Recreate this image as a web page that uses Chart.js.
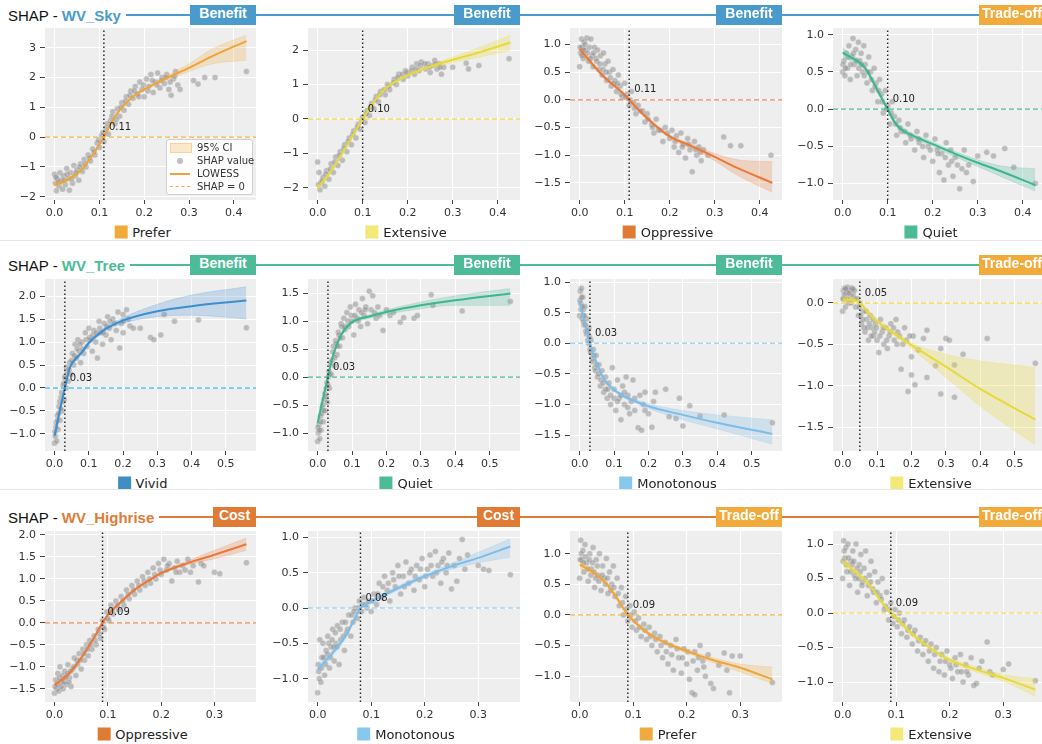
<!DOCTYPE html>
<html>
<head>
<meta charset="utf-8">
<script src="https://cdn.jsdelivr.net/npm/chart.js@4.4.1/dist/chart.umd.min.js"></script>
<style>
  body { margin: 0; width: 1042px; height: 744px; overflow: hidden; background: #fff; position: relative; font-family: 'DejaVu Sans', sans-serif; }
  .abs { position: absolute; }
  .head { display: flex; align-items: center; height: 20px; font: 15px 'Liberation Sans', Arial, sans-serif; color: #111; white-space: nowrap; }
  .head b { margin-left: 4px; }
  .head .line { flex: 1; height: 2px; margin-left: 5px; }
  .badge { height: 20px; line-height: 20px; color: #fff; font: bold 14px 'Liberation Sans', Arial, sans-serif; text-align: center; }
  .sep { left: 0; width: 1042px; height: 1px; background: #e8e8e8; }
  .cat { display: flex; align-items: center; font-size: 13px; color: #222; transform: translate(-50%, -50%); white-space: nowrap; }
  .cat i { display: inline-block; width: 13px; height: 13px; margin-right: 5px; }
  .leg { left: 166px; top: 139px; width: 85px; height: 54px; background: rgba(255,255,255,0.85); border: 1px solid #d0d0d0; border-radius: 3px; font-size: 10px; color: #333; }
  .leg div { position: absolute; left: 30px; height: 13px; line-height: 13px; white-space: nowrap; }
  .leg span { position: absolute; }
</style>
</head>
<body>
<script>
// ---- data ----
const rowNames = ['WV_Sky', 'WV_Tree', 'WV_Highrise'];
const categories = [
  ['Prefer', 'Extensive', 'Oppressive', 'Quiet'],
  ['Vivid', 'Quiet', 'Monotonous', 'Extensive'],
  ['Oppressive', 'Monotonous', 'Prefer', 'Extensive']
];
const effects = [
  ['Benefit', 'Benefit', 'Benefit', 'Trade-off'],
  ['Benefit', 'Benefit', 'Benefit', 'Trade-off'],
  ['Cost', 'Cost', 'Trade-off', 'Trade-off']
];
const thresholds = [[0.11, 0.10, 0.11, 0.10], [0.03, 0.03, 0.03, 0.05], [0.09, 0.08, 0.09, 0.09]];
const xTicks = [[0, 0.1, 0.2, 0.3, 0.4], [0, 0.1, 0.2, 0.3, 0.4, 0.5], [0, 0.1, 0.2, 0.3]];
const xDataMax = [0.428, 0.56, 0.36];
const yTicks = [
  [[-2, -1, 0, 1, 2, 3], [-2, -1, 0, 1, 2], [-1.5, -1, -0.5, 0, 0.5, 1], [-1, -0.5, 0, 0.5, 1]],
  [[-1, -0.5, 0, 0.5, 1, 1.5, 2], [-1, -0.5, 0, 0.5, 1, 1.5], [-1.5, -1, -0.5, 0, 0.5, 1], [-1.5, -1, -0.5, 0]],
  [[-1.5, -1, -0.5, 0, 0.5, 1, 1.5, 2], [-1, -0.5, 0, 0.5, 1], [-1, -0.5, 0, 0.5, 1], [-1, -0.5, 0, 0.5, 1]]
];
const yDecimals = [[0, 0, 1, 1], [1, 1, 1, 1], [1, 1, 1, 1]];
const yRange = [
  [[-2.11, 3.66], [-2.35, 2.64], [-1.81, 1.30], [-1.22, 1.09]],
  [[-1.37, 2.37], [-1.32, 1.75], [-1.76, 1.05], [-1.79, 0.29]],
  [[-1.80, 2.09], [-1.33, 1.09], [-1.42, 1.37], [-1.29, 1.19]]
];

// LOWESS curves [x, y]
const lowess_sky_prefer = [[0,-1.6],[0.02,-1.5],[0.04,-1.32],[0.06,-1.1],[0.08,-0.7],[0.1,-0.25],[0.11,0],[0.12,0.3],[0.14,0.8],[0.16,1.15],[0.18,1.42],[0.2,1.6],[0.25,1.98],[0.3,2.32],[0.35,2.7],[0.428,3.22]];
const lowess_sky_extensive = [[0,-2.0],[0.025,-1.6],[0.05,-1.1],[0.075,-0.55],[0.1,0],[0.125,0.5],[0.15,0.88],[0.175,1.1],[0.2,1.27],[0.25,1.52],[0.3,1.72],[0.35,1.9],[0.428,2.22]];
const lowess_sky_oppressive = [[0,0.92],[0.05,0.45],[0.1,0.09],[0.11,0],[0.15,-0.33],[0.2,-0.66],[0.25,-0.84],[0.3,-1.03],[0.35,-1.23],[0.428,-1.5]];
const lowess_sky_quiet = [[0,0.76],[0.05,0.55],[0.075,0.28],[0.1,0],[0.115,-0.17],[0.13,-0.27],[0.15,-0.34],[0.2,-0.47],[0.25,-0.6],[0.3,-0.72],[0.35,-0.83],[0.428,-1.02]];
const lowess_tree_vivid = [[0,-1.04],[0.015,-0.5],[0.03,0],[0.045,0.45],[0.06,0.62],[0.08,0.78],[0.1,0.98],[0.125,1.15],[0.15,1.29],[0.2,1.47],[0.3,1.67],[0.4,1.78],[0.56,1.9]];
const lowess_tree_quiet = [[0,-0.82],[0.015,-0.4],[0.03,0],[0.04,0.28],[0.05,0.48],[0.07,0.77],[0.1,0.98],[0.15,1.08],[0.2,1.16],[0.3,1.28],[0.4,1.37],[0.56,1.49]];
const lowess_tree_monotonous = [[0,0.69],[0.015,0.33],[0.03,0],[0.05,-0.33],[0.07,-0.58],[0.1,-0.76],[0.13,-0.87],[0.15,-0.92],[0.2,-1.03],[0.3,-1.17],[0.4,-1.3],[0.56,-1.48]];
const lowess_tree_extensive = [[0,0.04],[0.03,0.04],[0.05,0],[0.075,-0.12],[0.1,-0.22],[0.15,-0.37],[0.2,-0.51],[0.3,-0.77],[0.4,-1.04],[0.56,-1.41]];
const lowess_high_oppressive = [[0,-1.41],[0.025,-1.18],[0.05,-0.8],[0.07,-0.42],[0.09,0],[0.1,0.18],[0.125,0.48],[0.15,0.75],[0.175,0.95],[0.2,1.13],[0.25,1.36],[0.3,1.55],[0.36,1.79]];
const lowess_high_monotonous = [[0,-0.87],[0.025,-0.66],[0.05,-0.42],[0.07,-0.14],[0.08,0],[0.1,0.09],[0.15,0.28],[0.2,0.45],[0.25,0.59],[0.3,0.71],[0.36,0.87]];
const lowess_high_prefer = [[0,0.82],[0.025,0.7],[0.05,0.51],[0.07,0.27],[0.09,0],[0.1,-0.09],[0.125,-0.28],[0.15,-0.41],[0.2,-0.59],[0.25,-0.74],[0.3,-0.86],[0.36,-1.05]];
const lowess_high_extensive = [[0,0.75],[0.025,0.59],[0.05,0.41],[0.07,0.19],[0.09,0],[0.1,-0.07],[0.125,-0.27],[0.15,-0.43],[0.2,-0.68],[0.25,-0.82],[0.3,-0.94],[0.36,-1.11]];

// 95% CI bands [x, low, high]
const ci_sky_prefer = [[0,-1.68,-1.52],[0.02,-1.56,-1.44],[0.04,-1.37,-1.27],[0.06,-1.15,-1.05],[0.08,-0.75,-0.65],[0.1,-0.3,-0.2],[0.11,-0.05,0.05],[0.12,0.25,0.35],[0.14,0.75,0.85],[0.16,1.1,1.2],[0.18,1.38,1.46],[0.2,1.56,1.64],[0.25,1.92,2.05],[0.3,2.2,2.46],[0.35,2.45,2.95],[0.428,2.58,3.42]];
const ci_sky_extensive = [[0,-2.07,-1.93],[0.025,-1.65,-1.55],[0.05,-1.14,-1.06],[0.075,-0.59,-0.51],[0.1,-0.04,0.04],[0.125,0.46,0.54],[0.15,0.84,0.92],[0.175,1.06,1.14],[0.2,1.23,1.31],[0.25,1.47,1.57],[0.3,1.63,1.8],[0.35,1.77,2.03],[0.428,1.99,2.43]];
const ci_sky_oppressive = [[0,0.86,0.98],[0.05,0.42,0.48],[0.1,0.06,0.12],[0.11,-0.03,0.03],[0.15,-0.36,-0.3],[0.2,-0.69,-0.63],[0.25,-0.88,-0.8],[0.3,-1.1,-0.97],[0.35,-1.36,-1.08],[0.428,-1.67,-1.12]];
const ci_sky_quiet = [[0,0.7,0.82],[0.05,0.52,0.58],[0.075,0.25,0.31],[0.1,-0.03,0.03],[0.115,-0.2,-0.14],[0.13,-0.3,-0.24],[0.15,-0.37,-0.31],[0.2,-0.5,-0.44],[0.25,-0.64,-0.57],[0.3,-0.77,-0.68],[0.35,-0.9,-0.76],[0.428,-1.1,-0.8]];
const ci_tree_vivid = [[0,-1.1,-0.98],[0.015,-0.55,-0.45],[0.03,-0.04,0.04],[0.045,0.41,0.49],[0.06,0.58,0.66],[0.08,0.74,0.82],[0.1,0.94,1.02],[0.125,1.11,1.19],[0.15,1.25,1.33],[0.2,1.41,1.53],[0.3,1.55,1.82],[0.4,1.58,2.02],[0.56,1.5,2.2]];
const ci_tree_quiet = [[0,-0.88,-0.76],[0.015,-0.44,-0.36],[0.03,-0.03,0.03],[0.04,0.25,0.31],[0.05,0.45,0.51],[0.07,0.74,0.8],[0.1,0.95,1.01],[0.15,1.05,1.11],[0.2,1.12,1.2],[0.3,1.22,1.34],[0.4,1.28,1.45],[0.56,1.28,1.58]];
const ci_tree_monotonous = [[0,0.62,0.76],[0.015,0.29,0.37],[0.03,-0.03,0.03],[0.05,-0.36,-0.3],[0.07,-0.61,-0.55],[0.1,-0.79,-0.73],[0.13,-0.9,-0.84],[0.15,-0.95,-0.89],[0.2,-1.07,-0.99],[0.3,-1.25,-1.1],[0.4,-1.4,-1.17],[0.56,-1.65,-1.25]];
const ci_tree_extensive = [[0,0.0,0.08],[0.03,0.01,0.07],[0.05,-0.03,0.03],[0.075,-0.15,-0.09],[0.1,-0.25,-0.19],[0.15,-0.4,-0.34],[0.2,-0.55,-0.48],[0.3,-0.9,-0.62],[0.4,-1.25,-0.7],[0.56,-1.72,-0.78]];
const ci_high_oppressive = [[0,-1.47,-1.35],[0.025,-1.22,-1.14],[0.05,-0.84,-0.76],[0.07,-0.45,-0.39],[0.09,-0.03,0.03],[0.1,0.15,0.21],[0.125,0.45,0.51],[0.15,0.72,0.78],[0.175,0.92,0.98],[0.2,1.1,1.16],[0.25,1.32,1.41],[0.3,1.46,1.65],[0.36,1.65,1.93]];
const ci_high_monotonous = [[0,-0.93,-0.81],[0.025,-0.7,-0.62],[0.05,-0.46,-0.38],[0.07,-0.17,-0.11],[0.08,-0.03,0.03],[0.1,0.06,0.12],[0.15,0.25,0.31],[0.2,0.42,0.48],[0.25,0.55,0.63],[0.3,0.64,0.79],[0.36,0.72,0.98]];
const ci_high_prefer = [[0,0.76,0.88],[0.025,0.66,0.74],[0.05,0.48,0.54],[0.07,0.24,0.3],[0.09,-0.03,0.03],[0.1,-0.12,-0.06],[0.125,-0.31,-0.25],[0.15,-0.44,-0.38],[0.2,-0.62,-0.56],[0.25,-0.78,-0.7],[0.3,-0.93,-0.8],[0.36,-1.12,-0.85]];
const ci_high_extensive = [[0,0.69,0.81],[0.025,0.55,0.63],[0.05,0.38,0.44],[0.07,0.16,0.22],[0.09,-0.03,0.03],[0.1,-0.1,-0.04],[0.125,-0.3,-0.24],[0.15,-0.46,-0.4],[0.2,-0.71,-0.65],[0.25,-0.86,-0.78],[0.3,-0.99,-0.89],[0.36,-1.21,-0.95]];

// SHAP values [x, y]
const shap_sky_prefer = [[0,-1.25],[0.002,-1.55],[0.004,-1.8],[0.006,-1.4],[0.01,-1.65],[0.012,-1.2],[0.015,-1.45],[0.018,-1.75],[0.02,-1.3],[0.024,-1.6],[0.027,-1.05],[0.03,-1.4],[0.033,-1.78],[0.036,-1.2],[0.04,-1.55],[0.043,-0.95],[0.046,-1.3],[0.05,-1.1],[0.054,-1.45],[0.058,-0.9],[0.062,-1.15],[0.066,-0.75],[0.07,-1.0],[0.075,-0.6],[0.08,-0.8],[0.085,-0.4],[0.09,-0.6],[0.095,-0.2],[0.1,-0.35],[0.105,0.05],[0.11,-0.15],[0.115,0.3],[0.12,0.1],[0.125,0.55],[0.13,0.85],[0.135,0.45],[0.14,0.95],[0.145,0.7],[0.15,1.15],[0.155,0.9],[0.16,1.35],[0.165,1.1],[0.17,1.55],[0.175,1.3],[0.18,1.7],[0.185,1.45],[0.19,1.85],[0.195,1.6],[0.2,1.35],[0.205,1.95],[0.21,1.7],[0.215,2.1],[0.22,1.5],[0.225,1.85],[0.23,2.15],[0.235,1.65],[0.24,2.0],[0.245,1.8],[0.25,2.1],[0.255,1.6],[0.26,1.4],[0.265,1.95],[0.27,2.2],[0.275,1.75],[0.28,1.6],[0.31,1.9],[0.32,1.78],[0.335,2.0],[0.358,2.0],[0.428,2.2],
  [0.003,-1.35],[0.009,-1.5],[0.021,-1.45],[0.028,-1.25],[0.038,-1.4],[0.048,-1.2],[0.056,-1.0],[0.068,-0.9],[0.078,-0.7],[0.088,-0.5],[0.098,-0.1],[0.108,0.15],[0.118,0.45],[0.128,0.7],[0.138,0.6],[0.148,1.0],[0.158,1.2],[0.168,1.4],[0.178,1.55],[0.188,1.35],[0.198,1.75],[0.208,1.55],[0.218,1.9],[0.228,1.75],[0.238,1.9],[0.248,2.0],[0.258,1.85],[0.268,2.05]];
const shap_sky_extensive = [[0,-1.25],[0.003,-1.55],[0.005,-2.05],[0.008,-1.85],[0.012,-1.7],[0.016,-1.95],[0.02,-1.5],[0.025,-1.75],[0.03,-1.3],[0.035,-1.55],[0.04,-1.1],[0.045,-1.35],[0.05,-0.95],[0.055,-1.2],[0.06,-0.75],[0.065,-0.95],[0.07,-0.55],[0.075,-0.75],[0.08,-0.35],[0.085,-0.55],[0.09,-0.15],[0.095,-0.3],[0.1,0.05],[0.105,-0.1],[0.11,0.25],[0.115,0.1],[0.12,0.45],[0.125,0.3],[0.13,0.65],[0.135,0.5],[0.14,0.8],[0.15,0.7],[0.155,1.0],[0.16,0.85],[0.17,1.15],[0.175,1.0],[0.18,1.3],[0.19,1.15],[0.195,1.4],[0.2,1.25],[0.21,1.5],[0.215,1.3],[0.22,1.6],[0.225,1.4],[0.23,1.65],[0.24,1.45],[0.245,1.6],[0.25,1.35],[0.255,1.55],[0.26,1.7],[0.265,1.45],[0.27,1.6],[0.275,1.3],[0.28,1.5],[0.3,1.5],[0.33,1.62],[0.335,1.45],[0.358,1.55],[0.425,1.75],
  [0.002,-1.9],[0.01,-1.8],[0.018,-1.6],[0.028,-1.45],[0.038,-1.25],[0.048,-1.05],[0.058,-0.85],[0.068,-0.65],[0.078,-0.45],[0.088,-0.25],[0.098,-0.05],[0.108,0.15],[0.118,0.35],[0.128,0.55],[0.138,0.7],[0.148,0.85],[0.158,0.95],[0.168,1.05],[0.178,1.2],[0.188,1.3],[0.198,1.35],[0.208,1.4],[0.218,1.45],[0.228,1.55],[0.238,1.6],[0.248,1.5],[0.262,1.6],[0.272,1.5]];
const shap_sky_oppressive = [[0,0.6],[0.002,0.85],[0.004,1.1],[0.006,0.95],[0.008,0.75],[0.01,1.05],[0.013,0.9],[0.016,1.12],[0.02,0.7],[0.022,0.95],[0.025,1.1],[0.028,0.8],[0.03,0.6],[0.033,0.95],[0.036,0.75],[0.04,0.9],[0.043,0.55],[0.046,0.8],[0.05,0.45],[0.053,0.85],[0.056,0.65],[0.06,0.35],[0.063,0.7],[0.066,0.5],[0.07,0.25],[0.074,0.55],[0.078,0.35],[0.082,0.15],[0.086,0.45],[0.09,0.25],[0.095,0.05],[0.1,0.3],[0.105,0.1],[0.11,-0.1],[0.115,0.15],[0.12,-0.05],[0.125,-0.25],[0.13,-0.1],[0.14,-0.2],[0.145,-0.4],[0.15,-0.25],[0.16,-0.45],[0.165,-0.6],[0.17,-0.35],[0.18,-0.55],[0.185,-0.75],[0.19,-0.5],[0.2,-0.7],[0.205,-0.55],[0.21,-0.85],[0.215,-0.65],[0.22,-0.95],[0.225,-0.6],[0.23,-0.8],[0.235,-1.05],[0.24,-0.7],[0.245,-0.9],[0.25,-1.3],[0.255,-0.75],[0.26,-1.0],[0.265,-0.85],[0.27,-1.1],[0.275,-0.9],[0.285,-1.0],[0.32,-0.67],[0.335,-0.83],[0.358,-0.83],[0.425,-1.0],
  [0.001,0.95],[0.005,0.8],[0.009,0.9],[0.012,1.0],[0.018,0.85],[0.024,0.75],[0.031,0.85],[0.038,0.7],[0.045,0.65],[0.052,0.55],[0.059,0.5],[0.068,0.4],[0.076,0.3],[0.084,0.3],[0.092,0.1],[0.102,0.05],[0.112,0.0],[0.122,-0.15],[0.135,-0.2],[0.152,-0.35],[0.162,-0.5],[0.175,-0.55],[0.195,-0.6],[0.212,-0.75],[0.228,-0.85],[0.242,-0.8],[0.258,-0.9],[0.268,-0.95]];
const shap_sky_quiet = [[0,0.5],[0.003,0.65],[0.005,0.45],[0.008,0.75],[0.011,0.55],[0.014,0.85],[0.017,0.4],[0.02,0.7],[0.023,0.95],[0.026,0.6],[0.029,0.8],[0.032,0.45],[0.035,0.9],[0.038,0.65],[0.041,0.75],[0.044,0.5],[0.047,0.85],[0.05,0.6],[0.054,0.35],[0.058,0.7],[0.062,0.5],[0.066,0.25],[0.07,0.55],[0.074,0.35],[0.078,0.1],[0.082,0.4],[0.086,0.2],[0.09,-0.05],[0.095,0.25],[0.1,0.05],[0.105,-0.2],[0.11,0.1],[0.115,-0.1],[0.12,-0.35],[0.125,-0.15],[0.13,-0.3],[0.14,-0.45],[0.145,-0.2],[0.15,-0.35],[0.16,-0.55],[0.165,-0.3],[0.17,-0.45],[0.18,-0.65],[0.185,-0.35],[0.19,-0.5],[0.2,-0.7],[0.205,-0.4],[0.21,-0.55],[0.215,-0.85],[0.22,-0.6],[0.225,-0.95],[0.23,-0.45],[0.235,-0.75],[0.24,-0.55],[0.245,-0.9],[0.25,-0.65],[0.26,-1.07],[0.265,-0.8],[0.27,-0.55],[0.28,-0.75],[0.29,-0.97],[0.3,-0.63],[0.32,-0.58],[0.335,-0.63],[0.36,-0.53],[0.38,-0.78],[0.428,-1.0],
  [0.001,0.6],[0.006,0.55],[0.012,0.7],[0.018,0.6],[0.024,0.75],[0.03,0.65],[0.036,0.55],[0.042,0.6],[0.048,0.45],[0.056,0.5],[0.064,0.4],[0.072,0.3],[0.08,0.25],[0.088,0.1],[0.097,0.0],[0.108,-0.05],[0.118,-0.2],[0.128,-0.25],[0.138,-0.3],[0.152,-0.4],[0.168,-0.4],[0.178,-0.5],[0.195,-0.55],[0.212,-0.6],[0.228,-0.65],[0.242,-0.7],[0.255,-0.75],[0.275,-0.85]];
const shap_tree_vivid = [[0,-1.2],[0.002,-1.05],[0.004,-0.85],[0.006,-1.15],[0.008,-0.6],[0.01,-0.9],[0.013,-0.4],[0.016,-0.7],[0.019,-0.2],[0.022,-0.5],[0.025,0.05],[0.028,-0.25],[0.031,0.2],[0.034,0.0],[0.037,0.35],[0.04,0.15],[0.044,0.55],[0.048,0.3],[0.052,0.75],[0.056,0.5],[0.06,0.95],[0.064,0.65],[0.068,1.05],[0.072,0.8],[0.076,0.55],[0.08,1.0],[0.085,0.75],[0.09,1.2],[0.095,0.9],[0.1,1.3],[0.105,1.05],[0.11,0.8],[0.115,1.25],[0.12,1.0],[0.125,0.65],[0.13,1.45],[0.135,1.2],[0.14,0.95],[0.145,1.4],[0.15,1.15],[0.155,1.55],[0.16,1.3],[0.165,1.05],[0.17,1.5],[0.18,1.25],[0.185,1.65],[0.19,0.87],[0.195,1.4],[0.2,1.2],[0.21,1.7],[0.215,1.5],[0.22,1.35],[0.23,1.3],[0.25,1.3],[0.28,1.1],[0.29,1.05],[0.31,1.15],[0.32,1.6],[0.35,1.45],[0.42,1.48],[0.56,1.31],
  [0.001,-0.95],[0.005,-0.75],[0.009,-0.7],[0.012,-0.55],[0.015,-0.3],[0.018,-0.45],[0.021,-0.1],[0.024,-0.3],[0.027,0.1],[0.03,0.25],[0.035,0.45],[0.042,0.4],[0.05,0.6],[0.058,0.7],[0.066,0.85],[0.074,0.95],[0.082,0.85],[0.092,1.05],[0.102,1.1],[0.112,1.15],[0.122,1.2],[0.132,1.3],[0.142,1.2],[0.152,1.35],[0.162,1.45],[0.175,1.4],[0.2,1.45],[0.2,1.6]];
const shap_tree_quiet = [[0,-1.15],[0.002,-1.0],[0.004,-0.85],[0.006,-1.1],[0.008,-0.7],[0.01,-0.95],[0.013,-0.55],[0.016,-0.8],[0.019,-0.4],[0.022,-0.6],[0.025,-0.2],[0.028,-0.45],[0.031,0.0],[0.034,-0.2],[0.037,0.25],[0.04,0.05],[0.044,0.45],[0.048,0.2],[0.052,0.65],[0.056,0.4],[0.06,0.8],[0.064,0.55],[0.068,0.95],[0.072,0.7],[0.076,1.05],[0.08,0.85],[0.085,1.15],[0.09,0.9],[0.095,1.25],[0.1,1.0],[0.105,0.75],[0.11,1.3],[0.115,1.05],[0.12,1.2],[0.125,0.9],[0.13,1.4],[0.135,1.1],[0.14,1.25],[0.145,0.95],[0.15,1.53],[0.155,1.2],[0.16,1.45],[0.17,1.05],[0.175,1.25],[0.18,1.1],[0.19,0.83],[0.2,1.2],[0.21,1.1],[0.22,1.15],[0.24,0.98],[0.25,1.06],[0.28,1.05],[0.29,1.1],[0.33,1.47],[0.335,1.28],[0.42,1.18],[0.56,1.35],
  [0.001,-0.9],[0.005,-0.95],[0.009,-0.8],[0.012,-0.65],[0.015,-0.5],[0.018,-0.6],[0.021,-0.3],[0.024,-0.35],[0.027,-0.1],[0.03,-0.15],[0.033,0.1],[0.036,0.05],[0.042,0.3],[0.046,0.55],[0.05,0.35],[0.054,0.6],[0.058,0.55],[0.062,0.75],[0.066,0.7],[0.07,0.9],[0.078,0.9],[0.088,1.0],[0.098,1.1],[0.108,1.1],[0.118,1.0],[0.128,1.15],[0.138,1.2],[0.165,1.15]];
const shap_tree_monotonous = [[0,0.45],[0.002,0.85],[0.003,0.65],[0.005,0.9],[0.007,0.4],[0.009,0.75],[0.011,0.55],[0.013,0.3],[0.015,0.6],[0.018,0.2],[0.021,0.4],[0.024,0.05],[0.027,0.25],[0.03,-0.1],[0.033,0.05],[0.036,-0.25],[0.04,-0.1],[0.044,-0.4],[0.048,-0.2],[0.052,-0.55],[0.056,-0.35],[0.06,-0.7],[0.065,-0.45],[0.07,-0.8],[0.075,-0.55],[0.08,-0.9],[0.085,-0.65],[0.09,-1.0],[0.095,-0.4],[0.1,-0.75],[0.105,-1.1],[0.11,-0.6],[0.115,-0.9],[0.12,-1.25],[0.125,-0.7],[0.13,-1.0],[0.135,-0.55],[0.14,-0.85],[0.145,-1.15],[0.15,-0.95],[0.155,-0.6],[0.16,-1.1],[0.17,-1.38],[0.175,-0.85],[0.18,-1.42],[0.185,-1.0],[0.19,-0.8],[0.2,-1.15],[0.21,-1.37],[0.215,-0.95],[0.22,-0.8],[0.25,-0.75],[0.26,-1.2],[0.28,-1.23],[0.29,-0.9],[0.3,-1.35],[0.32,-1.02],[0.35,-1.19],[0.42,-1.17],[0.56,-1.3],
  [0.001,0.7],[0.004,0.55],[0.006,0.75],[0.008,0.6],[0.01,0.45],[0.012,0.35],[0.014,0.45],[0.017,0.3],[0.02,0.15],[0.023,0.2],[0.026,0.0],[0.029,0.1],[0.032,-0.15],[0.038,-0.3],[0.042,-0.2],[0.046,-0.45],[0.05,-0.35],[0.055,-0.5],[0.062,-0.6],[0.068,-0.65],[0.075,-0.75],[0.082,-0.75],[0.09,-0.85],[0.1,-0.9],[0.11,-0.95],[0.12,-0.85],[0.13,-0.8],[0.14,-1.05],[0.16,-0.9],[0.19,-1.1]];
const shap_tree_extensive = [[0,-0.1],[0.002,0.15],[0.004,0.05],[0.006,0.18],[0.008,-0.05],[0.011,0.12],[0.014,0.19],[0.017,0.0],[0.02,0.15],[0.023,0.08],[0.026,0.18],[0.03,0.1],[0.034,0.15],[0.038,-0.05],[0.042,0.05],[0.046,-0.15],[0.05,0.0],[0.055,-0.25],[0.06,-0.1],[0.065,-0.35],[0.07,-0.2],[0.075,-0.45],[0.08,-0.15],[0.085,-0.3],[0.09,-0.4],[0.095,-0.25],[0.1,-0.45],[0.105,-0.6],[0.11,-0.2],[0.115,-0.35],[0.12,-0.5],[0.125,-0.3],[0.13,-0.55],[0.135,-0.4],[0.14,-0.25],[0.15,-0.45],[0.155,-0.2],[0.16,-0.35],[0.17,-0.8],[0.175,-0.5],[0.18,-0.3],[0.19,-1.07],[0.2,-0.87],[0.2,-0.65],[0.205,-0.4],[0.21,-0.99],[0.22,-0.57],[0.235,-0.43],[0.245,-0.33],[0.245,-0.9],[0.27,-0.76],[0.285,-1.1],[0.285,-0.55],[0.3,-0.43],[0.31,-0.45],[0.325,-0.75],[0.325,-1.14],[0.35,-0.62],[0.42,-0.43],[0.56,-0.73],
  [0.001,0.05],[0.005,0.1],[0.009,0.17],[0.013,0.05],[0.018,0.12],[0.025,0.0],[0.03,0.17],[0.036,0.05],[0.048,-0.05],[0.052,-0.15],[0.058,-0.2],[0.062,-0.3],[0.068,-0.1],[0.072,-0.3],[0.078,-0.25],[0.083,-0.4],[0.088,-0.2],[0.093,-0.35],[0.098,-0.3],[0.108,-0.4],[0.118,-0.3],[0.128,-0.45],[0.138,-0.35],[0.148,-0.3],[0.158,-0.5],[0.165,-0.4],[0.185,-0.45],[0.195,-0.4]];
const shap_high_oppressive = [[0,-1.6],[0.002,-1.3],[0.004,-1.5],[0.006,-1.15],[0.008,-1.55],[0.01,-1.0],[0.013,-1.35],[0.016,-1.5],[0.019,-1.1],[0.022,-1.4],[0.025,-0.95],[0.028,-1.25],[0.031,-1.45],[0.034,-1.05],[0.037,-0.8],[0.04,-1.2],[0.043,-0.95],[0.046,-0.7],[0.05,-1.05],[0.053,-0.6],[0.056,-0.85],[0.06,-0.5],[0.063,-0.75],[0.066,-0.4],[0.07,-0.6],[0.074,-0.3],[0.078,-0.5],[0.082,-0.15],[0.086,-0.35],[0.09,0.05],[0.094,-0.15],[0.098,0.25],[0.102,0.05],[0.106,0.4],[0.11,0.2],[0.115,0.5],[0.12,0.3],[0.125,0.6],[0.13,0.4],[0.135,0.75],[0.14,0.55],[0.145,0.85],[0.15,0.65],[0.155,0.95],[0.16,0.75],[0.165,1.05],[0.17,0.85],[0.175,1.15],[0.18,0.9],[0.185,1.25],[0.19,1.0],[0.195,1.35],[0.2,1.1],[0.205,1.45],[0.21,1.2],[0.215,1.35],[0.22,0.95],[0.225,1.25],[0.23,1.4],[0.235,1.15],[0.24,1.3],[0.25,1.45],[0.255,1.15],[0.26,1.3],[0.27,0.93],[0.275,1.35],[0.28,1.3],[0.3,1.15],[0.31,1.12],[0.36,1.37],
  [0.001,-1.45],[0.005,-1.4],[0.009,-1.25],[0.012,-1.45],[0.015,-1.2],[0.018,-1.35],[0.021,-1.25],[0.024,-1.15],[0.027,-1.35],[0.03,-1.1],[0.036,-1.0],[0.042,-0.85],[0.048,-0.85],[0.055,-0.7],[0.062,-0.6],[0.068,-0.5],[0.076,-0.4],[0.084,-0.25],[0.092,-0.1],[0.1,0.1],[0.108,0.3],[0.118,0.4],[0.128,0.5],[0.138,0.65],[0.148,0.75],[0.158,0.85],[0.168,0.95],[0.178,1.0],[0.188,1.1],[0.198,1.2],[0.212,1.3],[0.228,1.15],[0.245,1.2]];
const shap_high_monotonous = [[0,-1.2],[0.002,-0.9],[0.004,-0.45],[0.006,-1.05],[0.008,-0.7],[0.01,-0.5],[0.013,-0.95],[0.016,-0.6],[0.019,-0.4],[0.022,-0.85],[0.025,-0.55],[0.028,-0.3],[0.031,-0.75],[0.034,-0.5],[0.037,-0.25],[0.04,-0.8],[0.043,-0.45],[0.046,-0.2],[0.05,-0.6],[0.054,-0.35],[0.058,-0.1],[0.062,-0.4],[0.066,-0.2],[0.07,0.0],[0.074,-0.15],[0.078,0.1],[0.082,-0.05],[0.086,0.15],[0.09,0.05],[0.095,0.1],[0.1,-0.05],[0.105,0.2],[0.11,0.05],[0.115,0.35],[0.12,0.15],[0.125,0.45],[0.13,0.25],[0.135,0.1],[0.14,0.5],[0.145,0.3],[0.15,0.6],[0.155,0.2],[0.16,0.45],[0.165,0.65],[0.17,0.35],[0.175,0.55],[0.18,0.25],[0.185,0.6],[0.19,0.4],[0.195,0.7],[0.2,0.3],[0.205,0.55],[0.21,0.75],[0.215,0.45],[0.22,0.8],[0.225,0.6],[0.23,0.35],[0.235,0.7],[0.24,0.5],[0.245,0.78],[0.25,0.27],[0.255,0.6],[0.26,0.38],[0.265,0.7],[0.27,0.97],[0.275,0.55],[0.28,0.75],[0.3,0.6],[0.31,0.55],[0.32,0.53],[0.36,0.47],
  [0.001,-0.8],[0.003,-1.0],[0.007,-0.85],[0.011,-0.7],[0.015,-0.8],[0.018,-0.65],[0.021,-0.5],[0.024,-0.7],[0.027,-0.45],[0.03,-0.55],[0.033,-0.35],[0.036,-0.55],[0.042,-0.3],[0.048,-0.4],[0.052,-0.2],[0.056,-0.3],[0.064,-0.1],[0.068,-0.05],[0.076,0.0],[0.084,0.05],[0.092,0.0],[0.102,0.1],[0.112,0.2],[0.122,0.3],[0.132,0.35],[0.142,0.4],[0.152,0.45],[0.162,0.3],[0.172,0.5],[0.182,0.45],[0.192,0.55],[0.202,0.45],[0.212,0.6],[0.222,0.5],[0.232,0.65],[0.242,0.6]];
const shap_high_prefer = [[0,0.6],[0.002,1.22],[0.004,0.9],[0.006,1.05],[0.008,0.7],[0.01,1.15],[0.013,0.85],[0.016,0.55],[0.019,1.0],[0.022,0.75],[0.025,1.1],[0.028,0.45],[0.031,0.9],[0.034,0.65],[0.037,1.0],[0.04,0.4],[0.043,0.8],[0.046,0.6],[0.05,0.92],[0.053,0.35],[0.056,0.7],[0.06,0.5],[0.063,0.8],[0.066,0.3],[0.07,0.6],[0.074,0.15],[0.078,0.45],[0.082,0.0],[0.086,0.3],[0.09,-0.1],[0.094,0.15],[0.098,-0.2],[0.102,0.05],[0.106,-0.25],[0.11,-0.05],[0.115,-0.35],[0.12,-0.15],[0.125,-0.4],[0.13,-0.2],[0.135,-0.5],[0.14,-0.3],[0.145,-0.6],[0.15,-0.35],[0.155,-0.7],[0.16,-0.45],[0.165,-0.8],[0.17,-0.5],[0.175,-0.9],[0.18,-0.4],[0.185,-0.7],[0.19,-0.95],[0.195,-0.55],[0.2,-0.8],[0.205,-1.05],[0.21,-1.27],[0.215,-0.6],[0.215,-1.3],[0.22,-0.9],[0.225,-0.5],[0.23,-0.75],[0.235,-1.0],[0.24,-0.65],[0.245,-1.12],[0.25,-1.2],[0.26,-0.82],[0.27,-0.62],[0.275,-0.9],[0.28,-1.27],[0.285,-0.67],[0.3,-0.67],[0.36,-1.1],
  [0.001,0.9],[0.003,1.0],[0.007,0.85],[0.011,0.95],[0.015,0.75],[0.018,0.9],[0.021,0.65],[0.024,0.85],[0.027,0.7],[0.03,0.6],[0.033,0.8],[0.036,0.55],[0.042,0.65],[0.048,0.5],[0.052,0.6],[0.058,0.4],[0.064,0.45],[0.072,0.35],[0.08,0.2],[0.088,0.1],[0.096,0.0],[0.104,-0.1],[0.112,-0.2],[0.122,-0.25],[0.132,-0.35],[0.142,-0.4],[0.152,-0.5],[0.162,-0.6],[0.172,-0.65],[0.182,-0.55],[0.192,-0.7],[0.202,-0.6],[0.212,-0.75],[0.222,-0.7],[0.232,-0.85]];
const shap_high_extensive = [[0,0.5],[0.002,1.05],[0.004,0.8],[0.006,0.95],[0.008,0.6],[0.01,1.0],[0.013,0.4],[0.016,0.75],[0.019,0.9],[0.022,0.55],[0.025,1.0],[0.028,0.3],[0.031,0.7],[0.034,0.85],[0.037,0.45],[0.04,0.65],[0.043,0.9],[0.046,0.25],[0.05,0.55],[0.053,0.75],[0.056,0.35],[0.06,0.6],[0.063,0.15],[0.066,0.45],[0.07,0.25],[0.074,0.5],[0.078,0.05],[0.082,0.3],[0.086,-0.1],[0.09,0.15],[0.094,-0.15],[0.098,0.05],[0.102,-0.2],[0.106,0.0],[0.11,-0.3],[0.115,-0.1],[0.12,-0.35],[0.125,-0.2],[0.13,-0.45],[0.135,-0.25],[0.14,-0.55],[0.145,-0.35],[0.15,-0.6],[0.155,-0.4],[0.16,-0.7],[0.165,-0.45],[0.17,-0.8],[0.175,-0.5],[0.18,-0.85],[0.185,-0.6],[0.19,-0.9],[0.195,-0.55],[0.2,-0.75],[0.205,-0.95],[0.21,-0.65],[0.215,-0.85],[0.22,-0.6],[0.225,-1.0],[0.23,-0.75],[0.235,-0.9],[0.24,-0.65],[0.245,-1.05],[0.25,-1.02],[0.255,-0.8],[0.26,-0.7],[0.27,-0.42],[0.275,-0.85],[0.28,-0.9],[0.3,-0.82],[0.31,-0.74],[0.36,-0.98],
  [0.001,0.75],[0.003,0.9],[0.007,0.7],[0.011,0.8],[0.015,0.6],[0.018,0.7],[0.021,0.75],[0.024,0.5],[0.027,0.65],[0.03,0.5],[0.033,0.6],[0.036,0.4],[0.042,0.5],[0.048,0.4],[0.052,0.45],[0.058,0.3],[0.064,0.3],[0.072,0.2],[0.08,0.1],[0.088,0.05],[0.096,-0.05],[0.104,-0.1],[0.112,-0.15],[0.122,-0.25],[0.132,-0.3],[0.142,-0.4],[0.152,-0.45],[0.162,-0.55],[0.172,-0.6],[0.182,-0.7],[0.192,-0.7],[0.202,-0.8],[0.212,-0.75],[0.222,-0.85],[0.232,-0.85]];

const lowessSets = [
  [lowess_sky_prefer, lowess_sky_extensive, lowess_sky_oppressive, lowess_sky_quiet],
  [lowess_tree_vivid, lowess_tree_quiet, lowess_tree_monotonous, lowess_tree_extensive],
  [lowess_high_oppressive, lowess_high_monotonous, lowess_high_prefer, lowess_high_extensive]
];
const ciSets = [
  [ci_sky_prefer, ci_sky_extensive, ci_sky_oppressive, ci_sky_quiet],
  [ci_tree_vivid, ci_tree_quiet, ci_tree_monotonous, ci_tree_extensive],
  [ci_high_oppressive, ci_high_monotonous, ci_high_prefer, ci_high_extensive]
];
const shapSets = [
  [shap_sky_prefer, shap_sky_extensive, shap_sky_oppressive, shap_sky_quiet],
  [shap_tree_vivid, shap_tree_quiet, shap_tree_monotonous, shap_tree_extensive],
  [shap_high_oppressive, shap_high_monotonous, shap_high_prefer, shap_high_extensive]
];

// ---- styles ----
const rowColors = ['#4a9bcb', '#4dbb97', '#e07b35'];
const badgeColors = { Cost: '#e07b35', 'Trade-off': '#f0ab3c' };
const patchColors = { Prefer: '#f0ab3c', Extensive: '#f3e878', Oppressive: '#e07b35', Quiet: '#4dbb97', Vivid: '#3f8fc5', Monotonous: '#88c7ee' };
const lineColors = { Prefer: '#eea43a', Extensive: '#e6d93c', Oppressive: '#e8793b', Quiet: '#3db58f', Vivid: '#3a8fd0', Monotonous: '#7dbce8' };
const bandColors = { Prefer: 'rgba(240,170,60,0.25)', Extensive: 'rgba(235,220,70,0.3)', Oppressive: 'rgba(235,125,60,0.25)', Quiet: 'rgba(70,185,150,0.25)', Vivid: 'rgba(70,145,210,0.25)', Monotonous: 'rgba(130,190,235,0.28)' };
const zeroColors = { Prefer: '#f5b048', Extensive: '#f3dc55', Oppressive: '#f08858', Quiet: '#46b891', Vivid: '#52c3ef', Monotonous: '#a0d5f3' };

// ---- layout ----
const colLeft = [45, 308, 570, 833];
const colRight = [256, 520, 782, 1045];
const rowTop = [28, 279, 531];
const rowBottom = [200, 451, 702];
const headerY = [15, 265, 517];
const badgeWidth = { Benefit: 66, Cost: 43, 'Trade-off': 66 };

const fmt = (v, d) => v.toFixed(d).replace('-', '\u2212');

const panelDeco = {
  id: 'panelDeco',
  beforeDraw(chart) {
    const a = chart.chartArea, ctx = chart.ctx;
    ctx.save();
    ctx.fillStyle = '#eeeeee';
    ctx.fillRect(a.left, a.top, a.right - a.left, a.bottom - a.top);
    ctx.restore();
  },
  afterDatasetsDraw(chart, args, opts) {
    const ctx = chart.ctx;
    const px = chart.scales.x.getPixelForValue(opts.threshold);
    const py = chart.scales.y.getPixelForValue(0);
    ctx.save();
    ctx.font = '10px "DejaVu Sans"';
    ctx.fillStyle = '#222';
    ctx.textBaseline = 'middle';
    ctx.fillText(opts.threshold.toFixed(2), px + 5, py - 10);
    ctx.restore();
  }
};

function addDiv(cls, css, html) {
  const d = document.createElement('div');
  d.className = 'abs ' + cls;
  d.style.cssText = css;
  if (html) d.innerHTML = html;
  document.body.appendChild(d);
  return d;
}

function makePanel(r, c) {
  const left = colLeft[c], right = colRight[c], top = rowTop[r], bottom = rowBottom[r];
  const w = 45 + (right - left) + 10, h = 12 + (bottom - top) + 22;
  const cv = document.createElement('canvas');
  cv.width = w; cv.height = h;
  cv.style.cssText = `position:absolute;left:${left - 45}px;top:${top - 12}px;width:${w}px;height:${h}px`;
  document.body.appendChild(cv);

  const cat = categories[r][c];
  const xmin = -0.05 * xDataMax[r], xmax = 1.05 * xDataMax[r];
  const [ymin, ymax] = yRange[r][c];
  const t = thresholds[r][c];
  const lw = lowessSets[r][c], ci = ciSets[r][c], pts = shapSets[r][c];
  const tickFont = { family: 'DejaVu Sans', size: 11 };

  new Chart(cv, {
    type: 'scatter',
    data: {
      datasets: [
        { data: [{ x: t, y: ymin }, { x: t, y: ymax }], showLine: true, borderColor: '#222', borderWidth: 1.4, borderDash: [1.5, 2.5], pointRadius: 0 },
        { data: lw.map(p => ({ x: p[0], y: p[1] })), showLine: true, borderColor: lineColors[cat], borderWidth: 2, pointRadius: 0, cubicInterpolationMode: 'monotone' },
        { data: ci.map(p => ({ x: p[0], y: p[2] })), showLine: true, borderColor: bandColors[cat], borderWidth: 0.8, backgroundColor: bandColors[cat], fill: '+1', pointRadius: 0, cubicInterpolationMode: 'monotone' },
        { data: ci.map(p => ({ x: p[0], y: p[1] })), showLine: true, borderColor: bandColors[cat], borderWidth: 0.8, pointRadius: 0, cubicInterpolationMode: 'monotone' },
        { data: [{ x: xmin, y: 0 }, { x: xmax, y: 0 }], showLine: true, borderColor: zeroColors[cat], borderWidth: 1.3, borderDash: [5, 3], pointRadius: 0 },
        { data: pts.map(p => ({ x: p[0], y: p[1] })), pointRadius: 3, backgroundColor: 'rgba(135,135,135,0.5)', borderColor: 'rgba(255,255,255,0.5)', borderWidth: 0.5 }
      ]
    },
    options: {
      responsive: false,
      animation: false,
      events: [],
      devicePixelRatio: 1,
      layout: { padding: { top: 12, right: 10, left: 0, bottom: 0 } },
      plugins: { legend: { display: false }, tooltip: { enabled: false }, panelDeco: { threshold: t } },
      scales: {
        x: {
          type: 'linear', min: xmin, max: xmax,
          afterBuildTicks: s => { s.ticks = xTicks[r].map(v => ({ value: v })); },
          afterFit: s => { s.height = 22; },
          grid: { color: '#ffffff', lineWidth: 1, tickColor: '#444', tickLength: 4 },
          border: { display: false },
          ticks: { font: tickFont, color: '#333', padding: 3, maxRotation: 0, autoSkip: false, callback: v => fmt(v, 1) }
        },
        y: {
          type: 'linear', min: ymin, max: ymax,
          afterBuildTicks: s => { s.ticks = yTicks[r][c].map(v => ({ value: v })); },
          afterFit: s => { s.width = 45; },
          grid: { color: '#ffffff', lineWidth: 1, tickColor: '#444', tickLength: 5 },
          border: { display: false },
          ticks: { font: tickFont, color: '#333', padding: 4, autoSkip: false, callback: v => fmt(v, yDecimals[r][c]) }
        }
      }
    },
    plugins: [panelDeco]
  });

  // category label under the axis
  addDiv('cat', `left:${(left + right) / 2 - 8}px;top:${bottom + 32}px`,
    `<i style="background:${patchColors[cat]}"></i>${cat}`);
}

// row headers, separators, badges
for (let r = 0; r < 3; r++) {
  addDiv('head', `left:8px;top:${headerY[r] - 10}px;width:1034px`,
    `SHAP -<b style="color:${rowColors[r]}">${rowNames[r]}</b><div class="line" style="background:${rowColors[r]}"></div>`);
  for (let c = 0; c < 4; c++) makePanel(r, c);
  for (let c = 0; c < 4; c++) {
    const e = effects[r][c];
    const bw = badgeWidth[e];
    const bg = e === 'Benefit' ? rowColors[r] : badgeColors[e];
    addDiv('badge', `left:${colRight[c] - bw}px;top:${headerY[r] - 10}px;width:${bw}px;background:${bg}`, e);
  }
}
addDiv('sep', 'top:240px');
addDiv('sep', 'top:489px');

// legend in the first panel
addDiv('leg', '',
  `<span style="left:3px;top:3px;width:20px;height:8px;background:rgba(240,170,60,0.25);border:1px solid rgba(240,170,60,0.35)"></span><div style="top:1px">95% CI</div>` +
  `<span style="left:10px;top:18px;width:6px;height:6px;border-radius:50%;background:rgba(140,140,140,0.55)"></span><div style="top:14px">SHAP value</div>` +
  `<span style="left:3px;top:33px;width:20px;height:2px;background:#eea43a"></span><div style="top:27px">LOWESS</div>` +
  `<span style="left:3px;top:46px;width:20px;height:0;border-top:1.5px dashed #f5b048"></span><div style="top:40px">SHAP = 0</div>`);
</script>
</body>
</html>
